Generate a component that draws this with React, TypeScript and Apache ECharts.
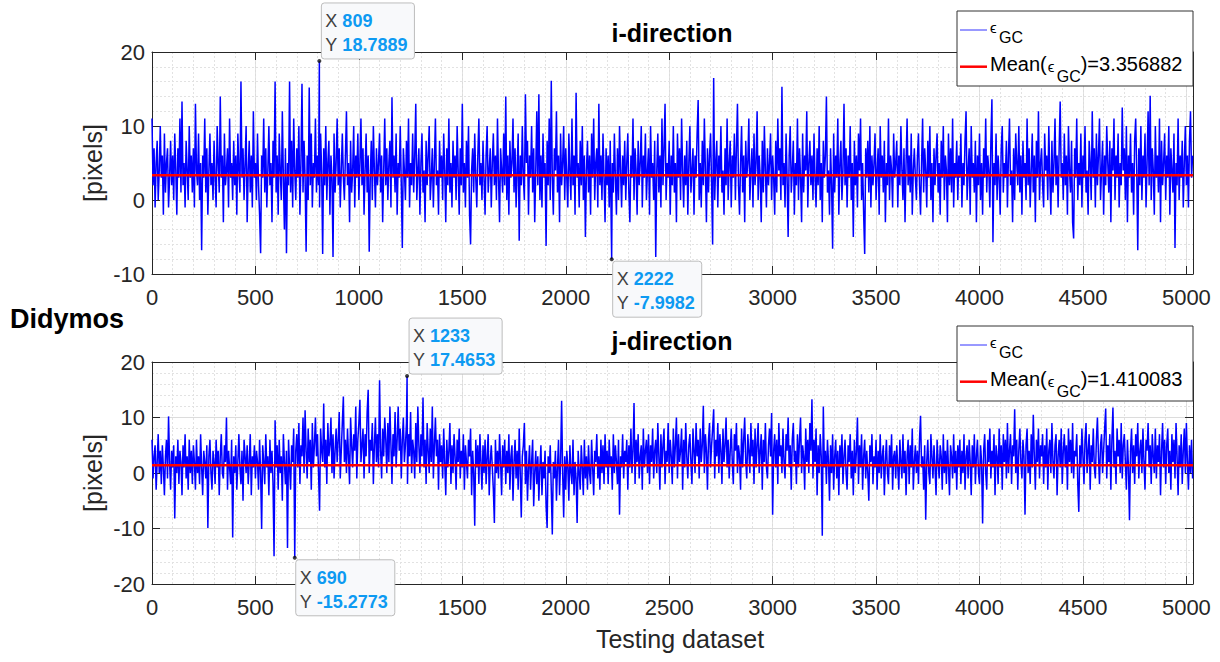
import React, { useEffect, useRef } from "react";
import * as echarts from "echarts";

// ---------- data ----------
const STEP = 5; // sample spacing of the value arrays (index units)
const X_MAX = 5032;
const X_INTERVAL = 500;
const X_MINOR = 100;

const iRange = [-10, 20];
const jRange = [-20, 20];
const Y_INTERVAL = 10;

const iMean = 3.356882;
const jMean = 1.410083;

// x tick labels hidden beneath a data tip in each panel
const iHiddenXLabels = [2500];
const jHiddenXLabels = [1000];

// i-direction error, one value every STEP samples (20 values = 100 samples per row)
const iValues = [
  11, 2, 7, -1, 5, 8, 0, 4, 10, 3, 6, -2, 9, 1, 5, 7, -1, 3, 8, 2,
  6, 0, 9, 4, -2, 7, 3, 11, 1, 13.3, 2, 5, -1, 8, 4, 0, 10, 3, 6, 1,
  7, -1, 13, 4, 2, 9, 0, 5, -6.8, 6, 3, 11, 1, 7, -2, 4, 9, 2, 5, 0,
  8, 3, -1, 10, 5, 1, 14, 3, 6, -3, 9, 2, 4, 7, -1, 11, 3, 5, 0, 8,
  2, 6, -2, 9, 4, 1, 16, 3, 7, 0, 5, 10, -3, 4, 8, 1, 6, -1, 12, 3,
  5, 0, 9, 2, -2, -7.2, 6, 3, 11, 1, 7, -1, 4, 10, 2, 5, -3, 8, 3, 16,
  1, 6, -2, 9, 4, 0, 12, 3, -4, 7, -7.2, 5, 2, 16, 1, 8, -1, 11, 4, 0,
  7, 3, 10, -2, 5, 15.7, 1, 8, 3, -7, 6, 0, 15.2, 2, 9, -1, 5, 3, 11, 1,
  6, 2, -1, 9, 4, -7.3, 7, 2, 10, 0, 5, 8, -2, 6, 3, -7.7, 9, 1, 5, 11,
  2, 7, -1, 4, 9, 3, 0, 6, 12, 2, 5, -3, 8, 1, 4, 10, -1, 6, 3, 9,
  0, 5, 11, 2, 7, -2, 4, 9, 1, 6, -7, 3, 8, 0, 10, 4, -1, 7, 2, 5,
  9, 1, 6, -3, 4, 11, 2, 7, 0, 5, 8, -1, 13.9, 3, 6, 1, 9, -2, 5, 3,
  10, 2, -6.5, 7, 4, 0, 8, 3, 11, -1, 5, 2, 9, 1, 6, 13, 0, 4, 7, -2,
  5, 9, 1, 4, -3, 8, 2, 6, 10, 0, 3, 7, -1, 5, 11, 2, 4, -2, 8, 3,
  6, 0, 9, 4, -3, 7, 2, 11, 1, 5, -1, 8, 3, 6, 0, 10, 4, -2, 7, 2,
  13, 1, 5, -1, 8, 3, 10, -2, -6, 4, 7, 1, 9, 3, -1, 6, 11, 2, 5, 0,
  8, 3, -2, 6, 10, 1, 4, 7, -1, 5, 9, 2, 6, 0, 11, 3, -3, 7, 4, 1,
  9, 2, 14, 0, 6, -2, 8, 3, 5, 11, 1, 7, -1, 4, 9, -5.5, 6, 2, 10, 3,
  0, 14.3, 5, 8, -2, 6, 3, 10, 1, 7, -3, 4, 12, 2, 14.3, 0, 6, -1, 9, 3,
  5, -6.2, 8, 2, 11, 0, 16.1, 3, -2, 7, 4, 12, 1, 6, -3, 9, 2, 5, 10, 0,
  7, 3, -1, 9, 4, 0, 11, 2, 6, -2, 14.5, 3, 5, -1, 8, 2, 10, 0, 6, -5,
  4, 8, 1, 6, -2, 9, 3, 11, 0, 5, 7, -1, 13, 2, 6, 0, 9, 3, -3, 7,
  2, 6, -1, 8, -4, 5, 1, 9, 3, -2, 7, 0, 10, 4, -1, 6, 2, 8, 0, 5,
  9, 1, -3, 6, 3, 11, 0, 7, 4, -2, 8, 2, 5, 10, -1, 6, 3, 9, 0, 4,
  7, -2, 10, 3, 5, 0, 8, -7.7, 4, 9, 1, 6, -1, 11, 2, 7, 13, 0, 5, 3,
  8, -2, 6, 2, 10, 1, 5, -3, 9, 3, 7, 0, 11, 4, -1, 6, 2, 8, -2, 5,
  10, 1, 4, 7, -2, 6, 3, 9, 13.5, 0, 5, -1, 8, 2, 11, 4, -3, 7, 1, 6,
  9, 2, -6, 16.5, 0, 5, 8, -1, 6, 3, 10, 1, 4, -2, 7, 2, 11, 0, 5, 8,
  -1, 6, 3, 9, 0, 7, 13, 2, -2, 5, 10, 1, 6, -3, 8, 3, 5, 11, 0, 4,
  7, -1, 9, 2, 5, 12, 0, 6, 3, -3, 8, 1, 10, 4, -1, 7, 2, 5, 9, 0,
  6, 3, -2, 8, 1, 11, 4, 7, 0, 15.3, 2, 5, -1, 9, 3, -5, 6, 10, 1, 4,
  8, -2, 5, 2, 11, 0, 7, 3, -3, 9, 1, 6, 4, 12, -1, 5, 8, 2, 6, 0,
  9, 3, -1, 7, 2, 10, 0, 5, -3, 8, 3, 6, 14, 1, 4, -2, 7, 2, -6.6, 9,
  1, 6, 3, 11, -2, 5, 8, 0, 4, 13, 2, 7, -1, 6, 3, 10, 0, 5, -5, 8,
  2, 6, -1, 9, 4, 11, 0, 5, -2, -7.3, 7, 3, 8, 1, 10, -1, 6, 2, 5, 9,
  0, 4, 7, -2, 10, 3, 6, 1, 8, -3, 5, 2, 11, 0, 6, 4, -1, 9, 3, 5,
  8, -1, 6, 2, 10, 4, 0, 7, -3, 5, 11, 2, 6, 1, 9, -2, 4, 7, 3, 0,
  6, 9, 2, -2, 5, 11, 1, 7, 4, -1, 8, 3, 10, 0, 5, -3, 7, 2, 6, 9,
  1, 5, -2, 8, 3, 10, 0, 6, 4, -3, 9, 2, 7, 1, 11, -1, 5, 3, 8, 0,
  6, 3, 9, -1, 5, 2, 8, 12, 0, 4, 7, -2, 10, 3, 5, 1, 8, -3, 6, 2,
  9, 0, 5, -2, 7, 3, 11, 1, 6, 4, -1, 8, 13.6, -5.7, 5, 2, 9, 0, 6, 3,
  -2, 7, 10, 1, 5, 3, 8, -1, 6, 11, 2, 4, -3, 7, 0, 9, 5, 2, 10, 1,
  6, -2, 8, 3, 5, 0, 11, 2, 7, -1, 4, 9, 1, 6, -3, 8, 3, 12, 0, 5,
  7, 2, -1, 9, 4, 6, 0, 10, 3, -2, 8, 1, 5, 11, 2, 6, -1, 7, 13.3, 3,
  5, 0, 9, 2, 6, -2, 10, 4, 1, 8, -3, -5.2, 7, 3, 11, 0, 5, 2, 9, -1,
  6, 3, 10, 1, 4, -2, 8, 5, 0, 12, 3, 7, -1, 9, 2, 6, 11, 0, 4, 8,
  -2, 6, 2, 10, 5, 1, 8, -3, 7, 4, 11, 0, 6, 3, 9, -1, 5, 2, 12.5, 4,
  7, 0, 10, -3, 6, 3, 9, 1, 5, -2, 8, 11, 4, -6.8, 7, 2, 10, 0, 6, 3,
  9, -1, 5, 12, 2, 14.1, 0, 7, 4, -2, 10, 3, 6, 1, 11, -3, 8, 2, 5, 9,
  0, 6, 3, 10, -2, 7, 4, 1, 9, -6.5, 5, 2, 11, 0, 6, 3, 8, -1, 5, 10,
  2, 6, -1, 8, 12, 3, 6,
];

// j-direction error, one value every STEP samples
const jValues = [
  6, -1, 3, 5, -3, 2, 7, 0, 4, -2, 5, 1, -4, 3, 6, -1, 10.2, 2, -3, 4,
  1, 5, -8.2, 3, 0, 6, -2, 4, 2, -4, 5, 1, 7, -1, 3, -3, 6, 0, 4, -2,
  5, 2, -3, 6, 0, 3, -2, 7, 1, -4, 4, 2, -1, 5, -9.9, 3, 6, 0, -3, 4,
  2, -2, 6, 1, 4, -4, 3, 7, 0, -1, 5, 2, 10, -3, 4, 1, -2, 6, -11.6, 3,
  0, 5, -3, 2, 7, 1, -2, 4, -5, 6, 3, 0, 5, -2, 2, 7, -4, 3, 1, 5,
  -1, 4, 2, -3, 6, 0, -10.1, 5, 2, -2, 7, 1, 3, -4, 6, 0, 4, -2, -15, 9.5,
  1, 5, -3, 6, 0, 3, -5, 7, 2, -2, 4, -13.5, 6, 1, -3, 5, 2, 8, -1, 4,
  7, 1, 9, -2, 5, 3, 10, 0, 11.3, 4, -1, 8, 2, 6, -3, 9, 1, 5, 10, 3,
  7, 0, -6.8, 8, 4, 2, 12.5, 1, 6, -2, 9, 3, 5, 10, 0, 7, -1, 4, 8, 2,
  6, 11, -1, 4, 9, 13.8, 2, 6, 0, 8, 3, -2, 10, 5, 1, 7, 4, 12, -1, 6,
  9, 13.2, 2, 5, 8, -1, 7, 3, 11, 15, 0, 6, 4, 9, -2, 5, 10, 2, 7, 1,
  16.7, 4, -1, 8, 3, 10, 6, 0, 9, 2, 12, 5, -2, 7, 3, 11, 1, 6, 12, 4,
  8, -1, 6, 10, 2, 5, 9, -2, 7, 3, 11, 0, 6, 4, -1, 9, 2, 12, 5, 0,
  7, 3, 13.6, 1, 6, -2, 9, 4, 0, 8, 2, 12, -1, 5, 10, 3, 6, -3, 7, 2,
  5, -1, 8, 2, -4, 6, 1, 4, 9, -2, 5, 0, 7, 3, -3, 6, 2, 8, -1, 4,
  1, 7, -3, 5, 2, -1, 6, 3, 8, -4, 4, 0, -9.5, 6, 1, 5, -2, 7, 2, -3,
  5, 0, 6, -2, 3, 7, -4, 2, 5, 1, -3, -9, 6, 0, 4, -1, 7, 2, -4, 5,
  1, 6, -2, 4, 0, 7, -3, 3, 5, -5, 2, 6, -1, 4, -3, 8, 0, -8, 3, 5,
  9, -2, 4, -5, 1, 5, -3, 2, 6, -6, 0, 4, -2, 3, -5, 1, 5, -4, 2, -1,
  4, -6, -9.9, 3, 0, 5, -3, -11.1, 2, -1, 4, -5, 1, 6, -4, 2, 13, 0, -8, 3,
  -3, 4, 1, -5, 5, 0, -2, 6, -4, 2, -1, -9, 4, 0, -3, 5, 1, -4, 6, -1,
  3, -3, 5, 0, -2, 6, 1, -4, 4, 2, 7, -1, 3, -3, 6, 0, 5, -2, 7, 1,
  4, -2, 6, 1, 3, -3, 7, 0, 5, 2, -2, 6, -7.5, 3, 1, 7, -1, 4, 2, 6,
  -3, 5, 1, 8, 0, 4, 12.6, -2, 6, 2, 7, -1, 3, 5, -3, 8, 1, 4, 6, 0,
  7, -2, 5, 2, 8, -1, 4, 6, 0, 9, 3, -3, 7, 1, 5, 8, -2, 4, 2, 9,
  0, 6, 3, -2, 8, 1, 5, 10, -1, 7, 2, 4, 8, -3, 6, 1, 9, 3, -1, 5,
  7, 2, -2, 8, 4, 0, 9, 3, 6, -1, 8, 2, 5, 12.1, 0, 7, 4, -3, 6, 9,
  1, 5, 8, 11.5, -1, 6, 3, 9, 0, 7, 4, -2, 8, 2, 5, 10, 1, 6, -1, 4,
  8, 2, -2, 7, 4, 9, 0, 5, 3, -3, 8, 1, 6, 10, 2, -1, 7, 4, 0, 9,
  3, 6, -2, 8, 1, 5, 9, 0, 4, 7, -3, 6, 2, 9, 1, -1, 5, 8, 3, 10.8,
  -7.5, 4, 7, 1, 6, -2, 9, 3, 5, 0, 8, 2, -1, 7, 4, 10, 1, 5, -3, 6,
  9, 2, 4, -2, 7, 1, 6, 10, 0, 5, 3, -3, 8, 2, 6, 0, 9, 4, 13.3, -1,
  6, 2, 8, -4, 5, 0, 7, 3, -11.3, 12, 1, 4, -2, 6, 2, -5, 5, 0, 7, -3,
  3, 6, -1, 4, -4, 5, 1, 7, -2, 3, 6, 0, -3, 5, 2, 7, -1, 4, -4, 6,
  0, 4, 10, -2, 5, 1, 7, -3, 3, 6, -1, 4, 0, -5, 5, 2, 7, -2, 3, 1,
  6, -3, 4, 0, 7, -1, 3, 5, -4, 2, 6, 0, -2, 5, 1, 7, -3, 3, 4, -1,
  5, 1, -3, 6, 2, -1, 7, 0, 4, -4, 3, 6, -2, 5, 1, 8, -3, 2, 5, 0,
  4, -2, 6, 10.3, 1, 3, -3, 5, -8.4, 2, 6, 0, -2, 7, 3, -1, 5, 1, -4, 6,
  2, -1, 5, 3, -3, 7, 0, 4, -2, 6, 1, -4, 5, 3, -1, 7, 0, 4, -3, 5,
  1, 6, -2, 4, 0, 7, -3, 3, 5, -1, 6, 2, -4, 5, 1, 7, -2, 3, 6, 0,
  -2, 5, 2, -9.1, 4, 7, 0, -3, 6, 2, 8, -1, 4, 1, 7, -4, 5, 3, -2, 8,
  1, 5, -3, 7, 2, 6, -1, 9, 0, 4, 7, -2, 5, 3, 11.5, 0, 6, -3, 4, 8,
  2, -1, 6, 3, -7.5, 5, 8, 0, 4, -2, 7, 1, 10.5, 3, -3, 6, 2, 8, -1, 5,
  3, 7, -2, 5, 1, 8, -3, 4, 6, 0, 9, 2, -1, 5, 7, -4, 3, 6, 1, 8,
  -2, 4, 7, 1, 5, -3, 8, 2, 6, 0, 9, -1, 4, 3, 7, -2, -7, 5, 1, 8,
  3, -2, 6, 9, 0, 4, 7, -3, 5, 2, 8, 1, -1, 6, 10, 3, -2, 5, 7, 0,
  4, 8, 11.6, -1, 5, 2, 7, -3, 6, 11.8, 1, 4, -2, 8, 3, 6, 0, 9, -1, 5,
  7, 2, -3, 6, 1, -8.5, 4, 8, 0, 5, -2, 7, 3, 9, -1, 4, 6, 0, 8, 2,
  -3, 6, 4, 9, 1, 5, -2, 7, 3, 0, 8, -1, 5, 2, 7, -4, 4, 9, 1, 6,
  -2, 5, 8, 0, 4, -3, 7, 2, 6, -1, 9, 3, -4, 5, 1, 7, -2, 4, 8, 0,
  9, 2, -3, 5, 0, 6, -1,
];

// data tips
const iTips = [
  { x: 809, y: 18.7889, side: "above" },
  { x: 2222, y: -7.9982, side: "below" },
];
const jTips = [
  { x: 1233, y: 17.4653, side: "above" },
  { x: 690, y: -15.2773, side: "below" },
];

// ---------- styling ----------
const FF = '"Liberation Sans", Arial, Helvetica, sans-serif';
const AXC = "#262626";

function buildLine(vals: number[], tips: { x: number; y: number }[]) {
  const pts: number[][] = vals
    .map((v, i) => [i * STEP, v])
    .filter((p) => !tips.some((t) => t.x === p[0]));
  tips.forEach((t) => pts.push([t.x, t.y]));
  pts.sort((a, b) => a[0] - b[0]);
  return pts;
}

export default function App() {
  const ref = useRef<HTMLDivElement>(null);
  useEffect(() => {
    document.body.style.margin = "0";
    const canvas = document.createElement("canvas");
    const ctx = canvas.getContext("2d")!;
    const tw = (s: string, fs: number, bold = false) => {
      ctx.font = `${bold ? "bold " : ""}${fs}px ${FF}`;
      return ctx.measureText(s).width;
    };
    // text placed by baseline (middle alignment ~ central baseline)
    const T = (
      text: string,
      x: number,
      baseline: number,
      fs: number,
      extra: any = {},
      z = 100
    ) => ({
      type: "text",
      x,
      y: baseline - 0.3465 * fs,
      z,
      style: {
        text,
        fontSize: fs,
        fontFamily: FF,
        fill: "#000",
        align: "left",
        textAlign: "left",
        verticalAlign: "middle",
        textVerticalAlign: "middle",
        ...extra,
      },
    });

    const legend = (top: number, meanStr: string) => {
      const els: any[] = [];
      els.push({
        type: "rect",
        z: 100,
        shape: { x: 957, y: top, width: 236, height: 75 },
        style: { fill: "#fff", stroke: "#333", lineWidth: 1 },
      });
      els.push({
        type: "line",
        z: 101,
        shape: { x1: 960, y1: top + 19, x2: 987, y2: top + 19 },
        style: { stroke: "#3333ff", lineWidth: 1 },
      });
      els.push(T("ϵ", 990, top + 22, 15, {}, 101));
      els.push(T("GC", 999, top + 32, 16, {}, 101));
      els.push({
        type: "line",
        z: 101,
        shape: { x1: 960, y1: top + 55.7, x2: 987, y2: top + 55.7 },
        style: { stroke: "#ff0000", lineWidth: 2.5 },
      });
      let x = 990;
      els.push(T("Mean(", x, top + 60, 20, {}, 101));
      x += tw("Mean(", 20) + 1;
      els.push(T("ϵ", x, top + 61, 15, {}, 101));
      x += 9;
      els.push(T("GC", x, top + 71, 16, {}, 101));
      x += tw("GC", 16);
      els.push(T(")=" + meanStr, x, top + 60, 20, {}, 101));
      return els;
    };

    const xMain = (gridIndex: number, hidden: number[]) => ({
      type: "value",
      gridIndex,
      position: "bottom",
      min: 0,
      max: X_MAX,
      interval: X_INTERVAL,
      axisLine: { show: true, onZero: false, lineStyle: { color: AXC, width: 1 } },
      axisTick: { show: true, inside: true, length: 8, lineStyle: { color: AXC } },
      axisLabel: {
        fontSize: 22,
        color: AXC,
        fontFamily: FF,
        margin: 12,
        showMaxLabel: false,
        formatter: (v: number) => (hidden.includes(v) ? "" : String(v)),
      },
      splitLine: { show: true, lineStyle: { color: "#dcdcdc", width: 1 } },
    });
    const xTop = (gridIndex: number) => ({
      type: "value",
      gridIndex,
      position: "top",
      min: 0,
      max: X_MAX,
      interval: X_INTERVAL,
      axisLine: { show: true, onZero: false, lineStyle: { color: AXC, width: 1 } },
      axisTick: { show: true, inside: true, length: 8, lineStyle: { color: AXC } },
      axisLabel: { show: false },
      splitLine: { show: false },
    });
    const xMinor = (gridIndex: number) => ({
      type: "value",
      gridIndex,
      position: "bottom",
      min: 0,
      max: X_MAX,
      interval: X_MINOR,
      axisLine: { show: false },
      axisTick: { show: false },
      axisLabel: { show: false },
      splitLine: { show: true, lineStyle: { color: "#e2e2e2", width: 1, type: [2, 2] } },
    });
    const yLeft = (gridIndex: number, r: number[]) => ({
      type: "value",
      gridIndex,
      position: "left",
      min: r[0],
      max: r[1],
      interval: Y_INTERVAL,
      axisLine: { show: true, onZero: false, lineStyle: { color: AXC, width: 1 } },
      axisTick: { show: true, inside: true, length: 8, lineStyle: { color: AXC } },
      axisLabel: { fontSize: 22, color: AXC, fontFamily: FF, margin: 7 },
      splitLine: { show: true, lineStyle: { color: "#dcdcdc", width: 1 } },
      minorTick: { show: false, splitNumber: 5 },
      minorSplitLine: { show: true, lineStyle: { color: "#e2e2e2", width: 1, type: [2, 2] } },
    });
    const yRight = (gridIndex: number, r: number[]) => ({
      type: "value",
      gridIndex,
      position: "right",
      min: r[0],
      max: r[1],
      interval: Y_INTERVAL,
      axisLine: { show: true, onZero: false, lineStyle: { color: AXC, width: 1 } },
      axisTick: { show: true, inside: true, length: 8, lineStyle: { color: AXC } },
      axisLabel: { show: false },
      splitLine: { show: false },
    });

    const panelSeries = (
      xi: number,
      yi: number,
      vals: number[],
      tips: any[],
      mean: number
    ) => [
      {
        type: "line",
        xAxisIndex: xi,
        yAxisIndex: yi,
        data: buildLine(vals, tips),
        showSymbol: false,
        symbol: "none",
        silent: true,
        lineStyle: { color: "#0000ff", width: 1.5 },
        z: 2,
      },
      {
        type: "line",
        xAxisIndex: xi,
        yAxisIndex: yi,
        data: [
          [0, mean],
          [X_MAX, mean],
        ],
        showSymbol: false,
        symbol: "none",
        silent: true,
        lineStyle: { color: "#ff0000", width: 2.5 },
        z: 3,
      },
      {
        type: "scatter",
        xAxisIndex: xi,
        yAxisIndex: yi,
        symbolSize: 4,
        itemStyle: { color: "#111" },
        silent: true,
        z: 10,
        data: tips.map((t) => [t.x, t.y]),
      },
    ];

    const baseGraphics: any[] = [
      T("i-direction", 672, 42, 25, { fontWeight: "bold", align: "center", textAlign: "center" }),
      T("j-direction", 672, 350, 25, { fontWeight: "bold", align: "center", textAlign: "center" }),
      T("Didymos", 10, 328, 27, { fontWeight: "bold" }),
      {
        type: "text",
        x: 93,
        y: 163,
        rotation: Math.PI / 2,
        z: 100,
        style: {
          text: "[pixels]",
          fontSize: 25,
          fontFamily: FF,
          fill: AXC,
          align: "center",
          textAlign: "center",
          verticalAlign: "middle",
          textVerticalAlign: "middle",
        },
      },
      {
        type: "text",
        x: 93,
        y: 473,
        rotation: Math.PI / 2,
        z: 100,
        style: {
          text: "[pixels]",
          fontSize: 25,
          fontFamily: FF,
          fill: AXC,
          align: "center",
          textAlign: "center",
          verticalAlign: "middle",
          textVerticalAlign: "middle",
        },
      },
      T("Testing dataset", 680, 648, 25, { align: "center", textAlign: "center", fill: AXC }),
      ...legend(11, String(iMean)),
      ...legend(326, String(jMean)),
    ];

    const chart = echarts.init(ref.current!, null, { renderer: "svg" });
    chart.setOption({
      animation: false,
      backgroundColor: "#fff",
      textStyle: { fontFamily: FF },
      grid: [
        { left: 152, top: 52, width: 1041, height: 222 },
        { left: 152, top: 362, width: 1041, height: 222 },
      ],
      xAxis: [
        xMain(0, iHiddenXLabels),
        xTop(0),
        xMinor(0),
        xMain(1, jHiddenXLabels),
        xTop(1),
        xMinor(1),
      ],
      yAxis: [yLeft(0, iRange), yRight(0, iRange), yLeft(1, jRange), yRight(1, jRange)],
      series: [
        ...panelSeries(0, 0, iValues, iTips, iMean),
        ...panelSeries(3, 2, jValues, jTips, jMean),
      ],
      graphic: { elements: baseGraphics },
    });

    // data tips placed through the axes' own scales
    const tipEls = (tips: any[], xi: number, yi: number) => {
      const out: any[] = [];
      tips.forEach((t) => {
        const p = chart.convertToPixel({ xAxisIndex: xi, yAxisIndex: yi }, [t.x, t.y]) as number[];
        const xs = String(t.x);
        const ys = String(t.y);
        const w =
          4 + tw("X ", 18) + Math.max(tw(xs, 18, true), tw(ys, 18, true)) + 7;
        const h = 56;
        const left = t.side === "above" ? p[0] + 2 : p[0] + 1;
        const top = t.side === "above" ? p[1] - 58 : p[1] + 2;
        out.push({
          type: "rect",
          z: 200,
          shape: { x: left, y: top, width: w, height: h, r: 3 },
          style: { fill: "#f8f9fb", stroke: "#bdbdbd", lineWidth: 1 },
        });
        const vx = left + 4 + tw("X ", 18);
        out.push(T("X", left + 4, top + 24, 18, { fill: "#404040" }, 201));
        out.push(T(xs, vx, top + 24, 18, { fill: "#0d9af2", fontWeight: "bold" }, 201));
        out.push(T("Y", left + 4, top + 48, 18, { fill: "#404040" }, 201));
        out.push(T(ys, vx, top + 48, 18, { fill: "#0d9af2", fontWeight: "bold" }, 201));
      });
      return out;
    };
    chart.setOption({
      graphic: {
        elements: [...baseGraphics, ...tipEls(iTips, 0, 0), ...tipEls(jTips, 3, 2)],
      },
    });
    return () => chart.dispose();
  }, []);
  return <div ref={ref} style={{ width: 1220, height: 662 }} />;
}
